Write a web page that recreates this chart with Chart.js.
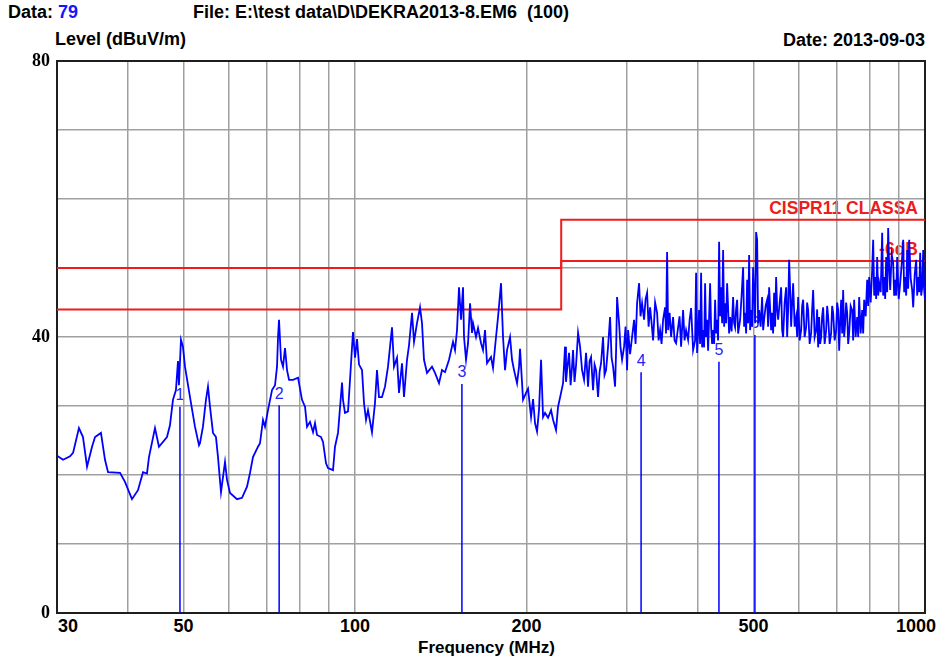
<!DOCTYPE html>
<html>
<head>
<meta charset="utf-8">
<script src="https://cdn.jsdelivr.net/npm/chart.js@4.4.0/dist/chart.umd.min.js"></script>
<style>
html,body{margin:0;padding:0;background:#fff;}
#wrap{position:relative;width:941px;height:661px;overflow:hidden;background:#fff;}
#c{position:absolute;left:0;top:0;z-index:2;}
.t{position:absolute;z-index:1;font-family:'Liberation Sans',Arial,sans-serif;font-weight:bold;white-space:pre;line-height:1;color:#000;}
.red{color:#ee1c1c;font-size:17.5px;}
.mk{position:absolute;z-index:1;font-family:'Liberation Sans',Arial,sans-serif;font-size:16px;line-height:1;color:#2323ff;white-space:pre;}
</style>
</head>
<body>
<div id="wrap">
<div class="t" style="left:8px;top:3px;font-size:18px;">Data: <span style="color:#1414ff">79</span></div>
<div class="t" style="left:193px;top:3px;font-size:18px;">File: E:\test data\D\DEKRA2013-8.EM6  (100)</div>
<div class="t" style="left:55px;top:30px;font-size:18px;">Level (dBuV/m)</div>
<div class="t" style="right:16px;top:31px;font-size:18px;">Date: 2013-09-03</div>
<div class="t red" style="right:23px;top:200px;">CISPR11 CLASSA</div>
<div class="t red" style="right:23px;top:241px;">-6dB</div>
<div class="t" style="left:418px;top:639px;font-size:17px;">Frequency (MHz)</div>
<canvas id="c" width="941" height="661"></canvas>
</div>
<script>
// ---- data ----
const gridFreqs = [30,40,50,60,70,80,90,100,200,300,400,500,600,700,800,900,1000];
const xTickLabels = [30,50,100,200,500,1000];
const yTickLabels = [0,40,80];

const limitFreqs  = [30,230,230,1000];
const limitLevels = [50,50,57,57];
const marginFreqs = [30,230,230,1000];
const marginLevels = [44,44,51,51];

const markerFreqs  = [49.3,73.6,154.0,317.6,435.0,503.0];
const markerLevels = [29.9,30.1,33.2,34.9,36.4,40.3];
const markerNames  = ['1','2','3','4','5','6'];

const traceFreqs = [
30.00,30.74,31.62,32.01,32.78,33.32,33.87,34.56,34.98,35.83,36.42,36.87,38.70,39.48,40.61,41.61,42.46,43.15,43.50,44.57,
45.29,46.78,47.35,47.93,48.51,48.91,49.10,49.50,49.90,50.31,51.34,52.38,53.24,
53.45,54.10,54.76,55.21,55.66,56.34,57.02,57.49,58.19,58.66,59.14,59.62,60.35,62.08,63.35,64.64,65.43,66.22,67.57,68.12,
68.95,69.51,70.36,71.51,72.38,72.97,73.27,73.56,74.16,74.76,75.36,75.98,76.60,77.84,79.43,80.72,81.71,82.37,83.37,84.39,
85.07,85.77,87.17,87.87,88.94,89.66,91.49,92.23,93.36,94.88,95.26,96.03,97.21,98.00,98.79,99.19,100.0,100.81,101.63,
102.86,103.70,104.54,105.38,107.09,108.39,109.28,110.17,111.51,112.87,114.25,116.11,117.05,118.48,119.44,120.90,121.88,
123.37,124.37,125.89,126.91,128.45,130.02,131.07,132.13,133.75,136.48,138.14,140.40,142.11,143.84,146.19,148.57,149.77,
150.99,152.21,153.45,154.69,155.32,156.58,157.86,159.14,160.43,161.08,163.04,164.36,166.37,167.71,169.07,170.45,173.22,
174.63,176.76,178.20,180.37,181.83,183.31,184.80,187.05,188.57,190.10,192.42,193.98,194.77,197.14,199.54,201.17,203.62,
205.27,206.94,208.62,210.31,
212.02,213.74,215.47,218.10,220.76,222.55,225.26,227.10,229.86,231.73,
233.60,234.5,235.51,237.42,238.9,240.31,241.28,242.7,244.22,246.21,
248.21,250.22,252.25,254.29,256.36,257.9,259.49,261.59,263.2,264.78,
266.94,268.6,270.19,272.38,274.0,275.70,277.95,280.20,281.9,283.62,
285.92,287.1,288.24,290.58,292.3,294.12,296.50,298.3,300.13,301.35,
303.8,306.25,308.73,310.6,312.51,315.04,316.9,318.88,321.47,323.4,
325.40,327.4,329.37,331.4,333.38,336.1,338.82,340.9,342.95,345.0,
347.13,
349.94,351.3,352.79,354.22,356.4,358.53,361.44,363.6,365.84,368.83,
371.0,373.32,376.35,378.6,380.93,384.04,386.4,388.72,391.87,395.04,
396.64,398.26,401.49,403.1,404.74,406.38,408.02,409.7,411.33,413.0,
414.69,416.37,419.75,421.4,423.15,424.86,426.6,428.30,430.0,431.79,
433.5,435.29,437.0,438.82,440.6,442.38,444.2,445.96,447.8,449.60,
453.25,455.08,457.8,460.62,462.5,464.36,466.2,468.14,470.04,473.85,
476.7,479.62,481.6,483.50,485.5,487.45,489.4,491.40,493.4,495.39,
497.4,499.40,503.45,505.49,507.55,509.6,511.67,514.8,517.90,520.0,
522.10,525.3,528.48,530.6,532.77,537.08,539.26,541.4,543.63,545.8,
548.03,550.3,552.51,555.9,559.24,561.5,563.77,567.2,570.64,572.97,
575.3,577.62,579.95,582.3,584.65,587.02,590.6,594.17,596.6,599.02,
602.7,606.31,608.8,611.23,614.9,618.67,621.2,623.73,627.5,631.32,
633.9,636.44,640.3,644.20,646.8,649.45,652.08,654.7,657.36,660.0,
662.69,666.7,670.76,673.5,676.23,680.3,684.46,687.2,690.01,694.2,
698.42,701.3,704.12,706.97,709.8,712.70,715.6,718.48,721.4,724.30,
727.2,730.20,733.2,736.12,740.6,745.09,748.1,751.13,755.7,760.31,
763.4,766.48,771.1,775.81,779.0,782.10,786.9,791.67,794.9,798.09,
803.0,807.81,811.08,814.4,817.65,821.0,824.32,827.7,831.01,836.1,
841.13,844.5,847.95,851.4,854.82,858.3,861.80,865.3,868.78,874.1,
879.37,882.9,886.49,890.1,893.72,899.2,904.61,910.1,915.63,919.3,
923.05,926.8,930.58,934.3,938.13,943.8,949.55,953.40,959.2,965.01,
968.9,972.88,976.8,980.77,984.7,988.72,992.72,996.4,1000
];
const traceLevels = [
22.8,22.2,22.7,23.2,26.8,25.5,21.2,24.1,25.5,26.1,22.2,20.4,20.3,19.0,16.5,17.8,20.4,20.2,22.6,26.8,
24.1,25.5,27.2,30.9,32.3,36.5,33.0,39.6,38.6,35.7,31.3,27.0,24.3,
24.6,27.0,30.9,32.8,29.9,26.1,25.5,22.6,17.5,19.7,21.9,19.3,17.4,16.5,16.7,18.3,20.3,22.6,24.1,24.6,
28.0,27.0,29.4,32.3,33.0,35.7,40.0,42.5,36.7,35.7,38.4,35.2,33.8,33.8,34.1,30.9,29.9,27.0,27.7,26.2,
27.5,25.8,25.5,24.8,21.7,21.0,20.7,24.1,26.1,33.4,30.9,29.0,29.2,33.8,38.5,40.7,37.0,39.7,36.0,
35.2,30.4,28.0,29.4,26.2,30.4,35.2,31.3,31.3,32.8,35.7,41.4,35.7,37.0,31.9,36.2,31.3,
36.7,38.8,43.5,39.3,42.0,44.3,42.0,36.7,34.8,35.7,34.8,33.3,35.2,34.9,36.7,39.3,38.1,
41.0,47.2,42.5,47.2,40.0,36.7,39.1,44.9,40.6,42.0,40.0,41.3,39.1,38.1,41.0,36.2,37.1,
35.5,40.0,42.9,47.8,40.0,35.2,38.1,40.0,36.7,35.2,33.3,35.7,38.3,30.9,31.9,32.5,28.4,
31.0,27.5,26.3,29.5,
36.7,28.4,29.0,28.3,29.4,28.0,26.5,29.9,31.9,33.3,
38.6,33.5,35.2,37.7,33.0,35.7,38.1,33.5,35.9,40.6,
38.6,35.2,33.8,37.7,32.8,36.5,37.1,32.3,36.0,35.2,
31.3,35.0,36.2,40.0,34.5,35.2,38.6,42.9,37.0,35.7,
32.8,38.0,45.8,42.0,38.5,36.7,38.6,41.5,35.2,41.0,
37.5,40.0,42.5,39.0,44.9,47.8,43.0,44.9,42.5,45.5,
46.4,41.5,44.3,42.0,39.5,45.0,43.5,39.5,41.0,39.0,
42.5,
44.3,40.5,52.3,41.0,43.5,40.0,42.9,39.5,39.1,41.4,
43.0,38.6,43.9,39.5,41.0,39.6,42.5,44.2,38.1,39.5,
49.3,37.7,43.9,39.0,49.3,38.5,41.0,38.5,47.8,40.0,
42.5,38.0,47.8,41.5,39.0,41.0,39.0,45.4,40.5,42.5,
39.5,53.8,43.0,47.2,42.0,52.6,41.5,44.9,42.0,47.8,
40.5,42.9,40.8,45.8,42.0,41.4,44.0,45.4,40.5,42.5,
46.0,50.1,41.5,43.5,40.5,48.3,42.0,51.9,41.0,43.9,
41.5,50.1,42.0,55.2,54.1,42.0,43.9,41.5,45.8,41.0,
42.5,44.5,45.4,41.5,47.2,41.0,43.5,40.5,46.4,41.5,
48.7,44.0,42.5,45.0,47.2,41.0,40.0,45.0,47.2,40.0,
44.0,51.2,46.8,41.5,44.9,47.8,41.5,42.9,40.0,45.8,
39.5,41.0,44.5,45.4,40.0,41.4,45.0,43.9,39.0,40.6,
44.0,46.8,40.0,41.0,44.0,38.5,42.9,39.0,40.0,43.0,
44.3,39.0,41.0,44.5,42.9,39.0,40.6,44.5,43.5,39.5,
41.0,45.0,43.9,38.0,42.0,45.4,40.5,46.8,40.0,42.0,
45.0,43.5,39.0,40.6,44.5,43.9,39.5,45.4,40.0,42.9,
40.0,45.8,40.5,43.9,40.5,45.4,43.0,48.3,44.5,48.7,
45.0,49.7,54.1,46.0,48.7,45.5,51.6,46.0,47.8,46.5,
55.1,46.0,48.7,45.5,51.6,46.5,55.8,50.0,46.8,52.0,
50.7,46.0,48.3,46.0,51.6,45.5,47.8,50.5,54.1,46.5,
48.7,46.0,52.6,47.0,54.1,48.5,46.8,44.3,49.0,51.2,
46.0,48.7,46.5,52.2,46.0,47.2,52.6,47.0,45.4
];

// ---- build datasets from the arrays ----
const toPts = (xs, ys) => xs.map((x, i) => ({x: x, y: ys[i]}));
const traceData = toPts(traceFreqs, traceLevels);
const limitData = toPts(limitFreqs, limitLevels);
const marginData = toPts(marginFreqs, marginLevels);
const markerData = [];
markerFreqs.forEach((f, i) => {
  markerData.push({x: f, y: 0});
  markerData.push({x: f, y: markerLevels[i]});
  markerData.push({x: f, y: null});
});

const framePlugin = {
  id: 'frame',
  beforeDatasetsDraw(chart) {
    const a = chart.chartArea, ctx = chart.ctx;
    ctx.save();
    ctx.strokeStyle = '#1e1e1e';
    ctx.lineWidth = 2;
    ctx.strokeRect(a.left, a.top, a.right - a.left, a.bottom - a.top);
    ctx.restore();
  }
};

const chart = new Chart(document.getElementById('c').getContext('2d'), {
  type: 'line',
  data: {
    datasets: [
      {label: 'Level', data: traceData, borderColor: '#0000ff', borderWidth: 1.8, pointRadius: 0, tension: 0, order: 0},
      {label: 'Markers', data: markerData, borderColor: '#0000ff', borderWidth: 1.5, pointRadius: 0, spanGaps: false, order: 1},
      {label: 'CISPR11 CLASSA', data: limitData, borderColor: '#ee1c1c', borderWidth: 2, pointRadius: 0, order: 2},
      {label: '-6dB', data: marginData, borderColor: '#ee1c1c', borderWidth: 2, pointRadius: 0, order: 3}
    ]
  },
  options: {
    responsive: false,
    animation: false,
    devicePixelRatio: 1,
    layout: {padding: {top: 61, right: 16, left: 0, bottom: 0}},
    plugins: {legend: {display: false}, tooltip: {enabled: false}, title: {display: false}},
    scales: {
      x: {
        type: 'logarithmic', min: 30, max: 1000,
        afterBuildTicks: s => { s.ticks = gridFreqs.map(v => ({value: v})); },
        afterFit: s => { s.height = 48; },
        ticks: {display: false, autoSkip: false},
        grid: {color: '#a0a0a0', lineWidth: 1.5, drawTicks: false},
        border: {display: false}
      },
      y: {
        type: 'linear', min: 0, max: 80,
        afterFit: s => { s.width = 57; },
        ticks: {
          stepSize: 10, autoSkip: false, padding: 7, color: '#000',
          font: {family: "'Liberation Serif', 'Times New Roman', serif", weight: 'bold', size: 18},
          callback: v => yTickLabels.includes(v) ? String(v) : ''
        },
        grid: {color: '#a0a0a0', lineWidth: 1.5, drawTicks: false},
        border: {display: false}
      }
    }
  },
  plugins: [framePlugin]
});

// ---- text placed through the library's scales ----
const wrap = document.getElementById('wrap');
const xs = chart.scales.x, ys = chart.scales.y;
xTickLabels.forEach((v, i) => {
  const d = document.createElement('div');
  d.className = 't';
  d.style.fontSize = '18px';
  d.style.top = '617px';
  d.textContent = String(v);
  const px = xs.getPixelForValue(v);
  wrap.appendChild(d);
  const w = d.getBoundingClientRect().width;
  let left = px - w / 2;
  if (i === 0) left = px + 1;
  if (i === xTickLabels.length - 1) left = px + 11 - w;
  d.style.left = left + 'px';
});
markerFreqs.forEach((f, i) => {
  const d = document.createElement('div');
  d.className = 'mk';
  d.textContent = markerNames[i];
  wrap.appendChild(d);
  const w = d.getBoundingClientRect().width;
  const px = xs.getPixelForValue(f);
  const py = ys.getPixelForValue(markerLevels[i]);
  d.style.left = (px - w / 2) + 'px';
  d.style.top = (py - 6 - 13.5) + 'px';
});
</script>
</body>
</html>
